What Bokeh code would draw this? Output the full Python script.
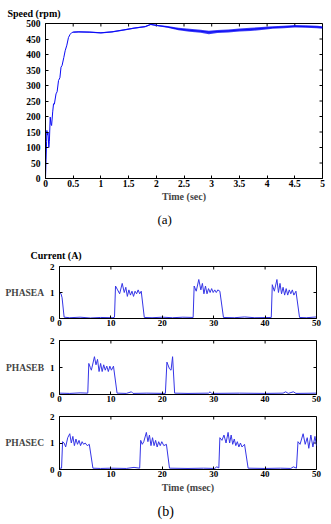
import math
from bokeh.plotting import figure
from bokeh.models import FixedTicker, LinearAxis, Title, CustomJSTickFormatter, Range1d
from bokeh.embed import file_html
from bokeh.resources import INLINE

# ---------------- data ----------------
speed_t = [0, 0.01, 0.02, 0.025, 0.035, 0.045, 0.06, 0.07, 0.085, 0.1, 0.11, 0.13, 0.145, 0.16,
           0.19, 0.21, 0.235, 0.26, 0.28, 0.3, 0.33, 0.355, 0.385, 0.415, 0.445, 0.476, 0.5]
speed_v = [0, 60, 120, 155, 140, 150, 100, 120, 198, 175, 171, 215, 241, 240,
           273, 280, 316, 325, 359, 365, 390, 412, 430, 455, 465, 471, 472]

band_t = [0.5, 0.6, 0.8, 1.0, 1.2, 1.4, 1.6, 1.8, 1.9, 2.0, 2.2, 2.4, 2.6, 2.8, 2.95, 3.1,
          3.3, 3.5, 3.7, 3.9, 4.1, 4.3, 4.5, 4.7, 4.9, 5.0]
band_mid = [472, 473, 472, 470, 473, 479, 485, 490, 497, 494, 489, 482, 478, 475, 472, 474,
            476, 479, 481, 484, 487, 489, 491, 490, 489, 487]
band_hi = [474, 475, 474, 472, 475, 481, 487, 492, 499, 496, 492, 486, 483, 480, 477, 479,
           481, 484, 486, 489, 491, 493, 495, 494, 493, 491]
band_lo = [470, 471, 470, 468, 471, 477, 483, 488, 495, 492, 486, 478, 473, 470, 465, 469,
           471, 474, 476, 479, 483, 485, 487, 486, 485, 483]

speed_xticks = [0, 0.5, 1, 1.5, 2, 2.5, 3, 3.5, 4, 4.5, 5]
speed_yticks = [0, 50, 100, 150, 200, 250, 300, 350, 400, 450, 500]

phase_a_t = [0, 0.3, 0.5, 0.9, 2, 4, 6, 8, 10.4, 10.7, 10.9, 11.3, 11.7, 12.2, 12.6, 12.9, 13.2,
             13.5, 13.8, 14.1, 14.4, 14.7, 15.0, 15.3, 15.6, 15.9, 16.5, 18, 20, 22, 24, 26.0,
             26.2, 26.6, 27.1, 27.5, 27.8, 28.1, 28.4, 28.7, 29.0, 29.3, 29.6, 29.9, 30.2, 30.5,
             30.8, 31.2, 31.9, 34, 36, 38, 41.2, 41.4, 41.8, 42.3, 42.6, 42.9, 43.2, 43.5, 43.8,
             44.1, 44.4, 44.7, 45.0, 45.3, 45.6, 46.0, 46.7, 48, 50]
phase_a_i = [1.0, 0.95, 0.8, 0.05, 0.03, 0.05, 0.02, 0.04, 0.03, 0.05, 1.25, 1.1, 0.95, 1.35, 1.0,
             1.2, 0.85, 1.1, 0.9, 1.05, 0.85, 1.05, 0.95, 1.1, 0.95, 1.05, 0.04, 0.03, 0.05, 0.03,
             0.05, 0.04, 1.25, 1.05, 1.5, 1.1, 1.35, 0.95, 1.25, 0.95, 1.15, 1.0, 1.15, 1.0, 1.1,
             1.0, 1.1, 1.05, 0.04, 0.03, 0.06, 0.03, 0.04, 1.3, 1.05, 1.5, 1.0, 1.35, 0.95, 1.2,
             0.9, 1.15, 0.9, 1.1, 0.95, 1.1, 0.9, 1.05, 0.04, 0.03, 0.06]

phase_b_t = [0, 2, 4, 5.5, 5.7, 6.0, 6.2, 6.8, 7.1, 7.4, 7.7, 8.0, 8.3, 8.6, 8.9, 9.2, 9.5, 9.8,
             10.1, 10.5, 11.2, 13, 14, 14.3, 17, 20.6, 20.9, 21.4, 21.7, 22.0, 22.4, 25, 29, 29.3,
             29.6, 35, 40, 43.5, 44, 44.5, 45.5, 46, 50]
phase_b_i = [0.05, 0.04, 0.06, 0.05, 1.15, 1.0, 0.9, 1.4, 1.1, 1.3, 0.85, 1.15, 0.85, 1.1, 0.9,
             1.05, 0.85, 1.05, 0.9, 1.05, 0.05, 0.04, 0.1, 0.04, 0.05, 0.04, 1.2, 0.95, 0.9, 1.4,
             0.05, 0.04, 0.05, 0.1, 0.04, 0.05, 0.04, 0.05, 0.1, 0.04, 0.1, 0.04, 0.05]

phase_c_t = [0, 0.4, 0.6, 0.9, 1.2, 1.6, 2.0, 2.3, 2.6, 2.9, 3.2, 3.5, 3.8, 4.1, 4.4, 4.7, 5.0,
             5.4, 5.8, 6.5, 8, 10, 13, 14.5, 15.6, 15.8, 16.1, 16.4, 16.9, 17.2, 17.5, 17.8, 18.1,
             18.4, 18.7, 19.0, 19.3, 19.6, 19.9, 20.3, 20.8, 21.4, 25, 28, 30.2, 30.6, 31.0, 31.2,
             31.6, 32.0, 32.4, 32.8, 33.1, 33.4, 33.7, 34.0, 34.3, 34.6, 34.9, 35.2, 35.5, 36.0,
             36.7, 40, 43, 45, 45.5, 46.1, 46.4, 46.8, 47.4, 47.8, 48.2, 48.5, 48.9, 49.3, 49.7, 50]
phase_c_i = [0.05, 0.05, 1.05, 1.0, 0.85, 1.2, 1.35, 1.0, 1.25, 0.9, 1.15, 0.95, 1.1, 0.9, 1.05,
             0.95, 1.0, 0.9, 0.95, 0.05, 0.04, 0.05, 0.04, 0.08, 0.05, 1.1, 0.95, 1.05, 1.4, 1.05,
             1.3, 0.9, 1.2, 0.9, 1.1, 0.85, 1.05, 0.9, 1.05, 0.9, 0.95, 0.05, 0.04, 0.05, 0.04,
             0.1, 0.06, 1.2, 1.1, 1.3, 1.0, 1.4, 1.0, 1.3, 0.95, 1.15, 0.9, 1.05, 0.85, 1.0, 0.85,
             0.95, 0.05, 0.04, 0.05, 0.04, 0.1, 0.05, 1.05, 0.95, 1.35, 0.95, 1.2, 0.8, 1.3, 0.85,
             1.25, 0.9]

current_xticks = [0, 10, 20, 30, 40, 50]
current_yticks = [0, 1, 2]
phase_names = ["PHASEA", "PHASEB", "PHASEC"]

SERIF = "Liberation Serif"
BLUE_TOP = "#0a0af5"
BLUE_LOW = "#3535e6"


def make_fig(h, top, bottom, left, right, xr, yr, xticks, yticks, tick_size, ystand):
    p = figure(width=331, height=h, output_backend="svg", toolbar_location=None,
               x_range=Range1d(*xr), y_range=Range1d(*yr),
               min_border_top=top, min_border_bottom=bottom,
               min_border_left=left, min_border_right=right,
               x_axis_location=None, y_axis_location=None)
    p.grid.visible = False
    p.outline_line_color = "black"
    p.outline_line_width = 1
    p.background_fill_color = "white"
    p.border_fill_color = "white"
    fmt = CustomJSTickFormatter(code="return String(tick)")
    xa = LinearAxis(ticker=FixedTicker(ticks=xticks), formatter=fmt)
    ya = LinearAxis(ticker=FixedTicker(ticks=yticks), formatter=fmt)
    for ax in (xa, ya):
        ax.major_tick_in = 3
        ax.major_tick_out = 0
        ax.minor_tick_line_color = None
        ax.axis_line_color = "black"
        ax.major_tick_line_color = "black"
        ax.major_label_text_font = SERIF
        ax.major_label_text_font_style = "bold"
        ax.major_label_text_color = "black"
        ax.major_label_text_font_size = tick_size
    xa.major_label_standoff = 1
    ya.major_label_standoff = ystand
    p.add_layout(xa, "below")
    p.add_layout(ya, "left")
    # box ticks on the top and right edges (MATLAB style)
    p.ray(x=xticks, y=[yr[1]] * len(xticks), length=3, length_units="screen",
          angle=-math.pi / 2, line_color="black", line_width=1)
    p.ray(x=[xr[1]] * len(yticks), y=yticks, length=3, length_units="screen",
          angle=math.pi, line_color="black", line_width=1)
    return p, xa, ya


def title(p, text, place, size, bold, align, offset, standoff):
    p.add_layout(Title(text=text, align=align, offset=offset, standoff=standoff,
                       text_font=SERIF, text_font_size=size,
                       text_font_style="bold" if bold else "normal",
                       text_color="black"), place)


# ---------------- (a) speed ----------------
p1, xa1, ya1 = make_fig(236, 23, 58, 45, 9, (0, 5), (0, 500), speed_xticks, speed_yticks,
                        "9.5px", 5)
xa1.axis_label = "Time (sec)"
xa1.axis_label_text_font = SERIF
xa1.axis_label_text_font_style = "bold"
xa1.axis_label_text_font_size = "10px"
xa1.axis_label_standoff = 1
p1.varea(x=band_t, y1=band_lo, y2=band_hi, fill_color=BLUE_TOP, fill_alpha=0.8)
p1.line(speed_t, speed_v, line_color=BLUE_TOP, line_width=1)
p1.line(band_t, band_mid, line_color=BLUE_TOP, line_width=1)
title(p1, "Speed (rpm)", "above", "10px", True, "left", -38, 10)
title(p1, "(a)", "below", "13px", False, "left", 112, 11)

# ---------------- (b) currents ----------------
figs = []
specs = [(100, 30, 18), (75, 4, 17), (113, 5, 54)]
data = [(phase_a_t, phase_a_i), (phase_b_t, phase_b_i), (phase_c_t, phase_c_i)]
for k in range(3):
    h, top, bottom = specs[k]
    p, xa, ya = make_fig(h, top, bottom, 59, 15, (0, 50), (0, 2), current_xticks,
                         current_yticks, "9px", 5)
    p.line(data[k][0], data[k][1], line_color=BLUE_LOW, line_width=1)
    ya.axis_label = phase_names[k]
    ya.axis_label_orientation = "horizontal"
    ya.axis_label_text_font = SERIF
    ya.axis_label_text_font_style = "bold"
    ya.axis_label_text_font_size = "9.5px"
    ya.axis_label_standoff = 3
    figs.append((p, xa))

p2 = figs[0][0]
title(p2, "Current (A)", "above", "10px", True, "left", -29, 11)
p4, xa4 = figs[2]
xa4.axis_label = "Time (msec)"
xa4.axis_label_text_font = SERIF
xa4.axis_label_text_font_style = "bold"
xa4.axis_label_text_font_size = "10px"
xa4.axis_label_standoff = 2
title(p4, "(b)", "below", "14px", False, "left", 98, 12)

# separate roots: each panel keeps its own borders (no frame alignment between them)
open("out.html", "w").write(file_html([p1, figs[0][0], figs[1][0], figs[2][0]], INLINE))
